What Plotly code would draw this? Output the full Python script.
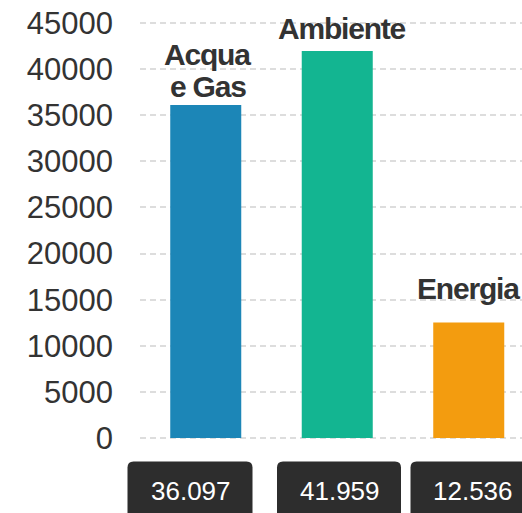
import plotly.graph_objects as go

# data
categories = ["Acqua<br>e Gas", "Ambiente", "Energia"]
values = [36097, 41959, 12536]
colors = ["#1c86b7", "#13b591", "#f39c0f"]
tick_vals = [0, 5000, 10000, 15000, 20000, 25000, 30000, 35000, 40000, 45000]

W, H = 522, 513
ML, MR, MT, MB = 140, 0, 21, 73
PW = W - ML - MR
PH = H - MT - MB
FONT = "Arial, Liberation Sans, Helvetica, sans-serif"


def px_x(px):
    return (px - ML) / PW


def px_y(py):
    return (H - MB - py) / PH


def rounded_rect(x0, x1, y0, y1, r=6):
    # pixel coords -> paper path with quadratic corners
    X, Y = px_x, px_y
    return (f"M {X(x0 + r)} {Y(y0)} L {X(x1 - r)} {Y(y0)} "
            f"Q {X(x1)} {Y(y0)} {X(x1)} {Y(y0 + r)} "
            f"L {X(x1)} {Y(y1 - r)} Q {X(x1)} {Y(y1)} {X(x1 - r)} {Y(y1)} "
            f"L {X(x0 + r)} {Y(y1)} Q {X(x0)} {Y(y1)} {X(x0)} {Y(y1 - r)} "
            f"L {X(x0)} {Y(y0 + r)} Q {X(x0)} {Y(y0)} {X(x0 + r)} {Y(y0)} Z")


fig = go.Figure(go.Bar(
    x=list(range(len(values))),
    y=values,
    width=0.54,
    marker=dict(color=colors, line=dict(width=0)),
    hoverinfo="skip",
))

# labels above bars (one annotation per line, tight line spacing)
label_shift = [0, 4, 15]
label_xshift = [2, 5, 0]
for i, (cat, v) in enumerate(zip(categories, values)):
    lines = cat.split("<br>")
    for j, line in enumerate(reversed(lines)):
        fig.add_annotation(
            x=i, y=v, xref="x", yref="y",
            text=f'<span style="letter-spacing:-1.2px"><b>{line}</b></span>',
            showarrow=False, yanchor="bottom",
            yshift=label_shift[i] + 32 * j, xshift=label_xshift[i],
            font=dict(family=FONT, size=30, color="#333333"),
        )

# value boxes below the chart
boxes = [(127.5, 252.5), (277, 401), (410.5, 535)]
for (b0, b1), v in zip(boxes, values):
    fig.add_shape(type="path", xref="paper", yref="paper",
                  path=rounded_rect(b0, b1, 461.5, 530),
                  fillcolor="#2d2d2d", line=dict(width=0), layer="above")
    fig.add_annotation(
        x=px_x((b0 + b1) / 2 + 0.5), y=px_y(491), xref="paper", yref="paper",
        text=f"{v:,}".replace(",", "."), showarrow=False,
        xanchor="center", yanchor="middle",
        font=dict(family=FONT, size=26, color="#ffffff"),
    )

fig.update_layout(
    width=W, height=H,
    margin=dict(l=ML, r=MR, t=MT, b=MB, pad=0),
    paper_bgcolor="white", plot_bgcolor="white",
    showlegend=False,
    xaxis=dict(range=[-0.5, 2.405], showticklabels=False, showgrid=False,
               zeroline=False, showline=False, fixedrange=True),
    yaxis=dict(range=[-220, 45220], tickvals=tick_vals, ticktext=[str(t) for t in tick_vals],
               showgrid=True, gridcolor="#dddddd", gridwidth=2, griddash="6px,4px",
               zeroline=False, showline=False, ticks="", ticklabelstandoff=26,
               tickfont=dict(family=FONT, size=31, color="#333333"),
               fixedrange=True),
)

fig.write_html("out.html", config={"displayModeBar": False},
               post_script="document.body.style.margin='0';document.body.style.overflow='hidden';")
